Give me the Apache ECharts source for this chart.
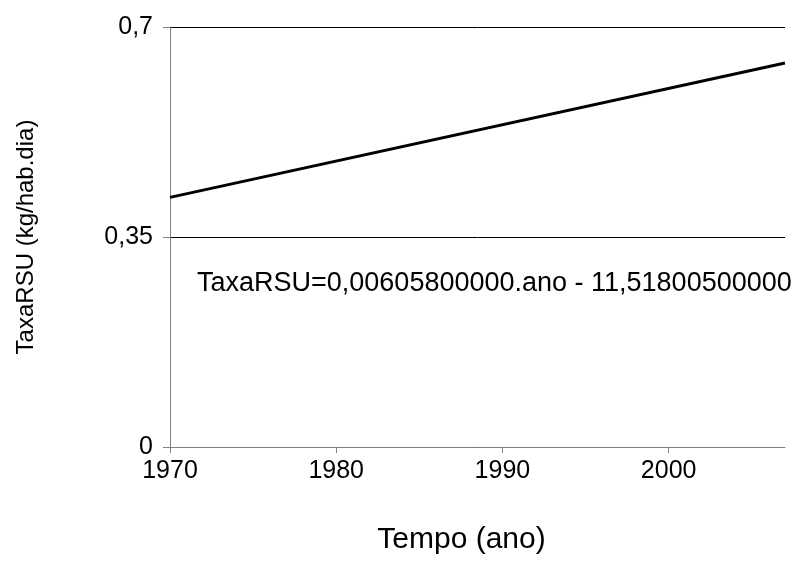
<!DOCTYPE html>
<html>
<head>
<meta charset="utf-8">
<script src="https://cdn.jsdelivr.net/npm/echarts@6/dist/echarts.min.js"></script>
<style>
  html, body { margin: 0; padding: 0; background: #fff; }
  #chart { width: 796px; height: 570px; }
</style>
</head>
<body>
<div id="chart"></div>
<script>
  // tendencia (ano, kg/hab.dia)
  var anos = [1970, 2007]
  var taxa = [0.416, 0.640]
  var xTicks = [1970, 1980, 1990, 2000]
  var yTicks = [0, 0.35, 0.7]
  var equacao = 'TaxaRSU=0,00605800000.ano - 11,51800500000'

  var pontos = anos.map(function (a, i) { return [a, taxa[i]] })
  var fonte = '"Liberation Sans", Arial, sans-serif'

  var myChart = echarts.init(document.getElementById('chart'))
  var option = {
    animation: false,
    backgroundColor: '#fff',
    grid: { left: 170, right: 11, top: 27, bottom: 123 },
    xAxis: {
      type: 'value',
      min: 1970,
      max: 2007,
      interval: 10,
      name: 'Tempo (ano)',
      nameLocation: 'middle',
      nameGap: 78,
      nameTextStyle: { fontFamily: fonte, fontSize: 30, color: '#000', padding: [0, 32, 0, 0] },
      axisLine: { lineStyle: { color: '#808080', width: 1 } },
      axisTick: { length: 6, lineStyle: { color: '#808080' }, customValues: xTicks },
      axisLabel: {
        fontFamily: fonte,
        fontSize: 25,
        color: '#000',
        margin: 12,
        customValues: xTicks,
        formatter: function (v) { return String(v) }
      },
      splitLine: { show: false }
    },
    yAxis: {
      type: 'value',
      min: 0,
      max: 0.7,
      interval: 0.35,
      name: 'TaxaRSU (kg/hab.dia)',
      nameLocation: 'middle',
      nameGap: 132,
      nameTextStyle: { fontFamily: fonte, fontSize: 24, color: '#000' },
      axisLine: { show: true, lineStyle: { color: '#808080', width: 1 } },
      axisTick: { show: true, length: 7, lineStyle: { color: '#808080' }, customValues: yTicks },
      axisLabel: {
        fontFamily: fonte,
        fontSize: 25,
        color: '#000',
        margin: 17,
        customValues: yTicks,
        formatter: function (v) { return String(v).replace('.', ',') }
      },
      splitLine: { show: true, lineStyle: { color: '#000', width: 1 } }
    },
    graphic: [{
      type: 'text',
      left: 197,
      top: 270,
      style: { text: equacao, fontFamily: fonte, fontSize: 27, fill: '#000' }
    }],
    series: [{
      type: 'line',
      data: pontos,
      symbol: 'none',
      lineStyle: { color: '#000', width: 3 }
    }]
  }
  myChart.setOption(option)
</script>
</body>
</html>
